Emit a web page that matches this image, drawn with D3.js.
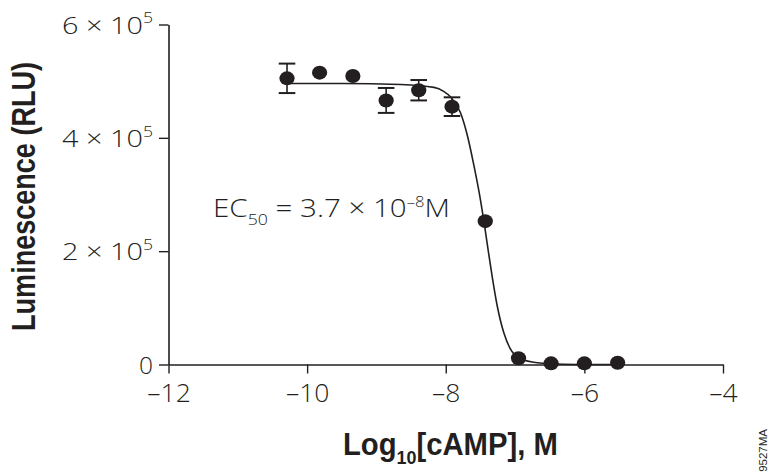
<!DOCTYPE html>
<html><head><meta charset="utf-8">
<script src="https://cdn.jsdelivr.net/npm/d3@7"></script>
<style>
html,body{margin:0;padding:0;background:#fff;}
svg{display:block;}
.lbl{font-family:"Open Sans",Roboto,"Liberation Sans",Arial,sans-serif;font-weight:300;fill:#231f20;}
.ttl{font-family:"Liberation Sans",Arial,sans-serif;font-weight:bold;fill:#231f20;}
</style></head><body>
<script>
// ---- data ----
const logConc = [-10.29, -9.82, -9.34, -8.86, -8.39, -7.91, -7.43, -6.95, -6.48, -6.00, -5.52];
const luminescence = [505000, 515000, 509000, 466000, 484000, 455000, 253000, 11000, 2000, 2000, 3000];
const errorSD = [26000, 0, 0, 22000, 18000, 16500, 0, 0, 0, 0, 0];
// fitted curve
const fitX = [-10.29, -9.5, -8.65, -8.17, -8.03, -7.93, -7.79, -7.69, -7.60, -7.52, -7.44, -7.38, -7.33, -7.26, -7.16, -7.07, -6.92, -6.68, -6.30, -5.90, -5.52];
const fitY = [496000, 496000, 494000, 489000, 482000, 472000, 445000, 405000, 355000, 305000, 245000, 195000, 155000, 105000, 55000, 28000, 10000, 3000, 500, 0, 0];
const xTicks = [-12, -10, -8, -6, -4];
const yTicks = [0, 200000, 400000, 600000];
const yTickMantissa = ["0", "2", "4", "6"];
const yTickExp = ["", "5", "5", "5"];
const ec50Label = {main: "EC", sub: "50", mid: " = 3.7 × 10", sup: "–8", end: "M"};
const xTitle = {main: "Log", sub: "10", end: "[cAMP], M"};
const yTitle = "Luminescence (RLU)";
const figCode = "9527MA";

const W = 769, H = 473;
const ink = "#231f20";
const x = d3.scaleLinear().domain([-12, -4]).range([168.5, 723]);
const y = d3.scaleLinear().domain([0, 600000]).range([364.5, 24.5]);

const svg = d3.select("body").append("svg").attr("width", W).attr("height", H);

// helper: horizontal scale factor that fits a text to a target length
function fitText(sel, target) {
  const w = sel.node().getBBox().width;
  return w > 0 ? target / w : 1;
}

// x axis
const gx = svg.append("g").attr("transform", `translate(0,${y(0)})`)
  .call(d3.axisBottom(x).tickValues(xTicks).tickSize(9).tickSizeOuter(0).tickPadding(0)
    .tickFormat(d => (d < 0 ? "\u2013" : "") + Math.abs(d)));
gx.select(".domain").attr("stroke", ink).attr("stroke-width", 1.6);
gx.selectAll(".tick line").attr("stroke", ink).attr("stroke-width", 1.4);
gx.selectAll(".tick text").attr("class", "lbl").attr("y", 37).attr("dy", 0)
  .attr("font-size", 26.5).attr("fill", ink).attr("font-family", null);

// y axis
const gy = svg.append("g").attr("transform", `translate(${x(-12)},0)`)
  .call(d3.axisLeft(y).tickValues(yTicks).tickSize(9.5).tickSizeOuter(0).tickFormat(""));
gy.select(".domain").attr("stroke", ink).attr("stroke-width", 1.6);
gy.selectAll(".tick line").attr("stroke", ink).attr("stroke-width", 1.4);
gy.selectAll(".tick").each(function(d, i) {
  const t = d3.select(this).append("text").attr("class", "lbl")
    .attr("text-anchor", "end").attr("font-size", 24.5);
  if (yTickExp[i]) {
    t.append("tspan").text(yTickMantissa[i] + " × 10");
    t.append("tspan").attr("font-size", 15).attr("dy", -10.5).text(yTickExp[i]);
    const s = Math.min(1.2, fitText(t, 91));
    t.attr("transform", `translate(-15.5,8.8) scale(${s},1)`);
  } else {
    t.text(yTickMantissa[i]).attr("transform", "translate(-15.5,8.8)");
  }
});

// fitted curve
const line = d3.line().x(d => x(d[0])).y(d => y(d[1])).curve(d3.curveMonotoneX);
svg.append("path").datum(fitX.map((v, i) => [v, fitY[i]]))
  .attr("d", line).attr("fill", "none").attr("stroke", ink).attr("stroke-width", 1.6);

// error bars
const pts = logConc.map((v, i) => ({x: v, y: luminescence[i], e: errorSD[i]}));
const eb = svg.append("g").selectAll("g").data(pts.filter(p => p.e > 0)).join("g");
eb.append("line").attr("x1", p => x(p.x)).attr("x2", p => x(p.x))
  .attr("y1", p => y(p.y + p.e)).attr("y2", p => y(p.y - p.e)).attr("stroke", ink).attr("stroke-width", 1.6);
eb.append("line").attr("x1", p => x(p.x) - 8.3).attr("x2", p => x(p.x) + 8.3)
  .attr("y1", p => y(p.y + p.e)).attr("y2", p => y(p.y + p.e)).attr("stroke", ink).attr("stroke-width", 2);
eb.append("line").attr("x1", p => x(p.x) - 8.3).attr("x2", p => x(p.x) + 8.3)
  .attr("y1", p => y(p.y - p.e)).attr("y2", p => y(p.y - p.e)).attr("stroke", ink).attr("stroke-width", 2);

// points
svg.append("g").selectAll("ellipse").data(pts).join("ellipse")
  .attr("cx", p => x(p.x)).attr("cy", p => y(p.y)).attr("rx", 7.6).attr("ry", 7)
  .attr("fill", ink);

// EC50 annotation
const ec = svg.append("text").attr("class", "lbl").attr("font-size", 25);
ec.append("tspan").text(ec50Label.main);
ec.append("tspan").attr("font-size", 15).attr("dy", 8).text(ec50Label.sub);
ec.append("tspan").attr("dy", -8).text(ec50Label.mid);
ec.append("tspan").attr("font-size", 14).attr("dy", -10).text(ec50Label.sup);
ec.append("tspan").attr("dy", 10).text(ec50Label.end);
const sEc = fitText(ec, 237);
ec.attr("transform", `translate(213,216.7) scale(${sEc},1)`);

// x title
const xt = svg.append("text").attr("class", "ttl").attr("text-anchor", "middle").attr("font-size", 31);
xt.append("tspan").text(xTitle.main);
xt.append("tspan").attr("font-size", 19).attr("dy", 9).text(xTitle.sub);
xt.append("tspan").attr("dy", -9).text(xTitle.end);
const sX = fitText(xt, 215);
xt.attr("transform", `translate(450.4,455) scale(${sX},1)`);

// y title
const yt = svg.append("text").attr("class", "ttl").attr("text-anchor", "middle")
  .attr("font-size", 33).text(yTitle);
const sY = fitText(yt, 269);
yt.attr("transform", `translate(35,196.5) rotate(-90) scale(${sY},1)`);

// figure code
svg.append("text").attr("transform", "translate(767,429) rotate(-90)")
  .attr("text-anchor", "end").attr("font-family", "Liberation Sans, Arial, sans-serif")
  .attr("font-size", 11.5).attr("fill", ink).text(figCode);
</script>
</body></html>
